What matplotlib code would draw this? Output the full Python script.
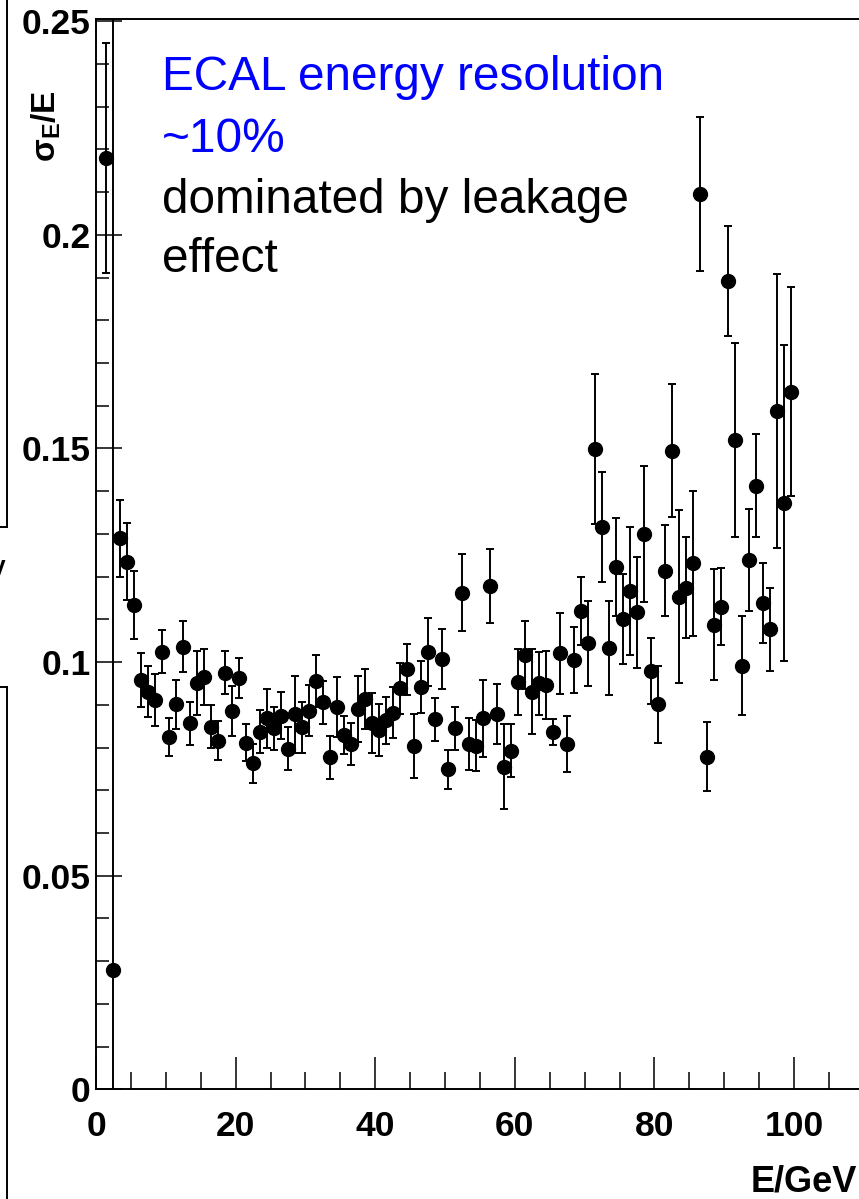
import matplotlib
matplotlib.use('Agg')
import matplotlib.pyplot as plt
from matplotlib.lines import Line2D
from matplotlib.ticker import MultipleLocator, FixedLocator, FixedFormatter

plt.rcParams['font.family'] = ['Liberation Sans', 'DejaVu Sans']
plt.rcParams['font.weight'] = 'bold'
plt.rcParams['mathtext.fontset'] = 'custom'
plt.rcParams['mathtext.rm'] = 'Liberation Sans:bold'
plt.rcParams['mathtext.bf'] = 'Liberation Sans:bold'
plt.rcParams['mathtext.it'] = 'Liberation Sans:italic'

# beam energy bins (GeV) and measured resolution sigma_E/E with errors
energy = [1.5, 2.5, 3.5, 4.5, 5.5, 6.5, 7.5, 8.5, 9.5, 10.5,
          11.5, 12.5, 13.5, 14.5, 15.5, 16.5, 17.5, 18.5, 19.5, 20.5,
          21.5, 22.5, 23.5, 24.5, 25.5, 26.5, 27.5, 28.5, 29.5, 30.5,
          31.5, 32.5, 33.5, 34.5, 35.5, 36.5, 37.5, 38.5, 39.5, 40.5,
          41.5, 42.5, 43.5, 44.5, 45.5, 46.5, 47.5, 48.5, 49.5, 50.5,
          51.5, 52.5, 53.5, 54.5, 55.5, 56.5, 57.5, 58.5, 59.5, 60.5,
          61.5, 62.5, 63.5, 64.5, 65.5, 66.5, 67.5, 68.5, 69.5, 70.5,
          71.5, 72.5, 73.5, 74.5, 75.5, 76.5, 77.5, 78.5, 79.5, 80.5,
          81.5, 82.5, 83.5, 84.5, 85.5, 86.5, 87.5, 88.5, 89.5, 90.5,
          91.5, 92.5, 93.5, 94.5, 95.5, 96.5, 97.5, 98.5, 99.5]

resolution = [0.218, 0.028, 0.129, 0.1235, 0.1134, 0.0958, 0.0931, 0.0911, 0.1024, 0.0825,
              0.0901, 0.1036, 0.0857, 0.0951, 0.0965, 0.0849, 0.0816, 0.0975, 0.0886, 0.0962,
              0.0811, 0.0763, 0.0837, 0.0868, 0.0845, 0.0874, 0.0797, 0.0878, 0.0847, 0.0886,
              0.0956, 0.0906, 0.0777, 0.0894, 0.0829, 0.0808, 0.089, 0.0914, 0.0857, 0.0841,
              0.0864, 0.0882, 0.0939, 0.0983, 0.0804, 0.0942, 0.1024, 0.0866, 0.1007, 0.0749,
              0.0845, 0.1162, 0.0808, 0.0804, 0.0868, 0.1178, 0.0878, 0.0755, 0.0793, 0.0954,
              0.1017, 0.0931, 0.095, 0.0946, 0.0837, 0.1021, 0.0808, 0.1005, 0.112, 0.1044,
              0.1499, 0.1316, 0.1032, 0.1223, 0.1101, 0.1166, 0.1117, 0.130, 0.098, 0.0901,
              0.1214, 0.1495, 0.1153, 0.1174, 0.1231, 0.2096, 0.0779, 0.1088, 0.113, 0.1892,
              0.152, 0.0992, 0.1239, 0.1413, 0.1138, 0.1077, 0.1588, 0.1373, 0.1633]

resolution_err = [0.027, 0.30, 0.009, 0.009, 0.008, 0.0063, 0.006, 0.006, 0.005, 0.0044,
                  0.0057, 0.006, 0.005, 0.0075, 0.0065, 0.005, 0.0045, 0.005, 0.0058, 0.0047,
                  0.0043, 0.0045, 0.005, 0.007, 0.005, 0.0055, 0.005, 0.009, 0.006, 0.006,
                  0.006, 0.005, 0.005, 0.007, 0.0045, 0.005, 0.0077, 0.007, 0.007, 0.006,
                  0.0055, 0.006, 0.006, 0.006, 0.0075, 0.006, 0.008, 0.005, 0.007, 0.0045,
                  0.005, 0.009, 0.006, 0.006, 0.009, 0.0087, 0.007, 0.010, 0.0062, 0.0077,
                  0.008, 0.010, 0.0073, 0.008, 0.003, 0.0095, 0.0065, 0.0077, 0.008, 0.010,
                  0.0175, 0.0128, 0.011, 0.0115, 0.0105, 0.015, 0.013, 0.016, 0.0077, 0.009,
                  0.0107, 0.0155, 0.0203, 0.0118, 0.017, 0.018, 0.008, 0.013, 0.009, 0.0128,
                  0.0228, 0.0115, 0.012, 0.012, 0.0094, 0.0097, 0.032, 0.037, 0.0245]

y_ticks = [0, 0.05, 0.1, 0.15, 0.2, 0.25]
y_tick_labels = ['0', '0.05', '0.1', '0.15', '0.2', '0.25']
x_ticks = [0, 20, 40, 60, 80, 100]
x_tick_labels = ['0', '20', '40', '60', '80', '100']

note_lines = ['ECAL energy resolution', '~10%', 'dominated by leakage', 'effect']
note_colors = ['#0000ff', '#0000ff', 'black', 'black']

W, H = 859, 1199
fig = plt.figure(figsize=(W / 100, H / 100), dpi=100)

# pixel geometry of the frame (right side runs off the picture)
px_per_gev = 6.98
px_per_unit = 4272.0
x0, y0, ytop = 96, 1089.3, 19
ax = fig.add_axes([x0 / W, (H - y0) / H, 120 * px_per_gev / W, (y0 - ytop) / H])
ax.set_xlim(0, 120)
ax.set_ylim(0, (y0 - ytop) / px_per_unit)

ax.errorbar(energy, resolution, yerr=resolution_err, fmt='o', color='black',
            ms=10, elinewidth=1.4, capsize=3, capthick=1.4)

for s in ax.spines.values():
    s.set_linewidth(1.4)

ax.xaxis.set_major_locator(FixedLocator(x_ticks))
ax.xaxis.set_major_formatter(FixedFormatter(x_tick_labels))
ax.xaxis.set_minor_locator(MultipleLocator(5))
ax.yaxis.set_major_locator(FixedLocator(y_ticks))
ax.yaxis.set_major_formatter(FixedFormatter(y_tick_labels))
ax.yaxis.set_minor_locator(MultipleLocator(0.01))

ax.tick_params(axis='x', which='major', direction='in', length=22.8, width=1.1,
               labelsize=25.5, pad=15)
ax.tick_params(axis='x', which='minor', direction='in', length=12, width=1.1)
ax.tick_params(axis='y', which='major', direction='in', length=18.5, width=1.1,
               labelsize=25.5, pad=4)
ax.tick_params(axis='y', which='minor', direction='in', length=9.4, width=1.1)

# axis titles, ROOT style
fig.text(46 / W, 1 - 90 / H, r'$\mathrm{\sigma}_{\mathbf{E}}$/E', rotation=90,
         ha='center', va='top', fontsize=24, fontweight='bold')
fig.text(857 / W, 1 - 1192 / H, 'E/GeV', fontsize=26, fontweight='bold',
         va='baseline', ha='right')

# annotation
baselines = [90, 152, 213, 272]
for txt, col, yb in zip(note_lines, note_colors, baselines):
    fig.text(162 / W, 1 - yb / H, txt, color=col, fontsize=34.4, fontweight='normal',
             va='baseline', ha='left')

# bits of the neighbouring panel at the left edge
fig.add_artist(Line2D([7 / W, 7 / W], [1, 1 - 527 / H], color='black', lw=1.4))
fig.add_artist(Line2D([0, 7 / W], [1 - 527 / H, 1 - 527 / H], color='black', lw=1.4))
fig.add_artist(Line2D([7 / W, 7 / W], [1 - 687 / H, 0], color='black', lw=1.4))
fig.add_artist(Line2D([0, 7 / W], [1 - 687 / H, 1 - 687 / H], color='black', lw=1.4))
fig.text(6 / W, 1 - 577 / H, 'E/GeV', ha='right', va='baseline', fontsize=17, fontweight='bold')

fig.savefig('out.png', dpi=100)
